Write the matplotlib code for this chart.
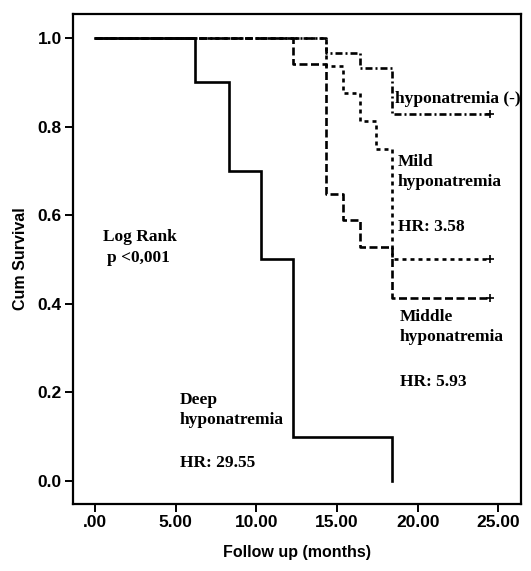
import matplotlib
matplotlib.use("Agg")
import matplotlib.pyplot as plt

# Kaplan-Meier steps (months, cumulative survival)
deep_t = [0, 6.2, 8.3, 10.3, 12.3, 18.4]
deep_s = [1.0, 0.9, 0.7, 0.5, 0.1, 0.0]

middle_t = [0, 12.3, 14.3, 15.4, 16.4, 18.4, 24.5]
middle_s = [1.0, 0.941, 0.647, 0.588, 0.529, 0.412, 0.412]

mild_t = [0, 14.3, 15.4, 16.4, 17.4, 18.4, 24.5]
mild_s = [1.0, 0.9375, 0.875, 0.8125, 0.75, 0.5, 0.5]

none_t = [0, 14.3, 16.4, 18.4, 24.5]
none_s = [1.0, 0.966, 0.931, 0.828, 0.828]

xticks = [0, 5, 10, 15, 20, 25]
xticklabels = ['.00', '5.00', '10.00', '15.00', '20.00', '25.00']
yticks = [0.0, 0.2, 0.4, 0.6, 0.8, 1.0]

plt.rcParams['lines.scale_dashes'] = False
plt.rcParams['font.family'] = 'Liberation Sans'

fig = plt.figure(figsize=(5.31, 5.71), dpi=100)
ax = fig.add_axes([0.1375, 0.1173, 0.8435, 0.8582])

lw = 1.9
px = 0.72
ax.step(deep_t, deep_s, where='post', color='black', lw=lw, solid_joinstyle='miter')
ax.step(middle_t, middle_s, where='post', color='black', lw=lw,
        dashes=(8 * px, 3.5 * px))
ax.step(mild_t, mild_s, where='post', color='black', lw=lw,
        dashes=(4 * px, 4 * px))
ax.step(none_t, none_s, where='post', color='black', lw=lw,
        dashes=(7 * px, 3 * px, 2 * px, 3 * px))

# censored marks at end of follow up
for t, s in [(middle_t, middle_s), (mild_t, mild_s), (none_t, none_s)]:
    ax.plot(t[-1], s[-1], marker='+', color='black', ms=5.5, mew=1.2)

ax.set_xlim(-1.36, 26.4)
ax.set_ylim(-0.052, 1.054)
ax.set_xticks(xticks)
ax.set_xticklabels(xticklabels)
ax.set_yticks(yticks)
ax.set_yticklabels([f'{v:.1f}' for v in yticks])
for lab in ax.get_xticklabels() + ax.get_yticklabels():
    lab.set_fontweight('bold')
    lab.set_fontsize(12.5)
ax.tick_params(length=6, width=1.4, pad=2, color='black')
for sp in ax.spines.values():
    sp.set_linewidth(1.6)

ax.set_xlabel('Follow up (months)', fontsize=11.5, fontweight='bold', labelpad=11)
ax.set_ylabel('Cum Survival', fontsize=11.5, fontweight='bold', labelpad=7)

tf = dict(family='Liberation Serif', fontweight='bold', fontsize=12.5,
          transform=fig.transFigure, va='center', ha='left', linespacing=1.3)
W, H = 531, 571
def txt(x, y, s, **kw):
    fig.text(x / W, 1 - y / H, s, **tf, **kw)

txt(395, 99, 'hyponatremia (-)', zorder=5)
txt(398, 172, 'Mild\nhyponatremia')
txt(398, 227, 'HR: 3.58')
txt(400, 327, 'Middle\nhyponatremia')
txt(400, 382, 'HR: 5.93')
txt(103, 237, 'Log Rank')
txt(107, 258, 'p <0,001')
txt(180, 410, 'Deep\nhyponatremia')
txt(180, 463, 'HR: 29.55')

fig.savefig('out.png', dpi=100)
